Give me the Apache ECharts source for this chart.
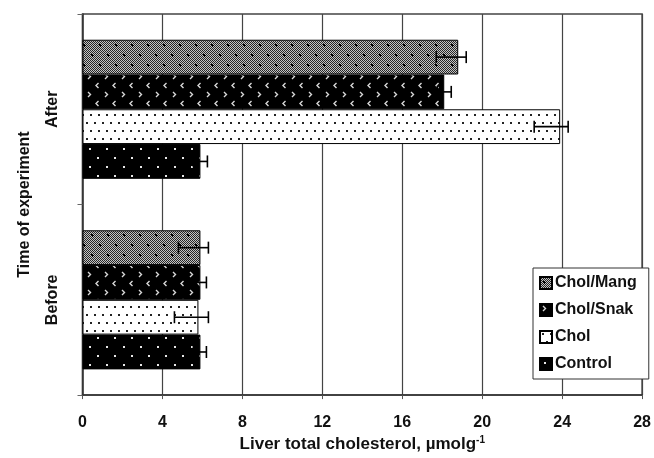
<!DOCTYPE html>
<html>
<head>
<meta charset="utf-8">
<script src="https://cdn.jsdelivr.net/npm/echarts@6/dist/echarts.min.js"></script>
<style>
  html, body { margin: 0; padding: 0; background: #fff; }
  #chart { width: 654px; height: 458px; }
</style>
</head>
<body>
<div id="chart"></div>
<script>
// ---- data ----
const categories = ['Before', 'After'];
const seriesNames = ['Control', 'Chol', 'Chol/Snak', 'Chol/Mang'];
const controlValues = [5.9, 5.9];
const cholValues = [5.8, 23.9];
const cholSnakValues = [5.9, 18.1];
const cholMangValues = [5.9, 18.8];
// error bar ends (low, high)
const controlErrLow = [5.55, 5.55];
const controlErrHigh = [6.2, 6.25];
const cholErrLow = [4.6, 22.6];
const cholErrHigh = [6.3, 24.3];
const cholSnakErrLow = [5.55, 17.75];
const cholSnakErrHigh = [6.2, 18.45];
const cholMangErrLow = [4.8, 17.7];
const cholMangErrHigh = [6.3, 19.2];
const xTicks = [0, 4, 8, 12, 16, 20, 24, 28];

// ---- patterns (style only) ----
function makePattern(w, h, bg, draw) {
  const c = document.createElement('canvas');
  c.width = w; c.height = h;
  const ctx = c.getContext('2d');
  ctx.fillStyle = bg; ctx.fillRect(0, 0, w, h);
  draw(ctx);
  return { image: c, repeat: 'repeat' };
}
const patMang = makePattern(16, 20, '#c4c4c4', ctx => {
  ctx.fillStyle = '#262626';
  for (let y = 0; y < 20; y++) for (let x = 0; x < 16; x++) if ((x + y) % 2 === 0) ctx.fillRect(x, y, 1, 1);
  ctx.fillStyle = '#000';
  [[4, 5], [12, 15]].forEach(([x, y]) => { ctx.fillRect(x - 1, y, 3, 1); ctx.fillRect(x, y - 1, 1, 3); ctx.fillRect(x - 1, y - 1, 2, 2); });
});
const patSnak = makePattern(17, 18, '#000', ctx => {
  ctx.strokeStyle = '#d8d8d8';
  ctx.lineWidth = 1.4;
  const gt = (x, y) => { ctx.beginPath(); ctx.moveTo(x, y - 2.5); ctx.lineTo(x + 2.5, y); ctx.lineTo(x, y + 2.5); ctx.stroke(); };
  const lt = (x, y) => { ctx.beginPath(); ctx.moveTo(x + 2.5, y - 2.5); ctx.lineTo(x, y); ctx.lineTo(x + 2.5, y + 2.5); ctx.stroke(); };
  gt(3, 4.5); lt(11, 13.5);
});
const patChol = makePattern(16, 16, '#fff', ctx => {
  ctx.fillStyle = '#222';
  [[2, 2], [10, 2], [6, 10], [14, 10]].forEach(([x, y]) => ctx.fillRect(x, y, 2, 2));
});
const patControl = makePattern(17, 18, '#000', ctx => {
  ctx.fillStyle = '#e8e8e8';
  [[4, 4], [12, 13]].forEach(([x, y]) => ctx.fillRect(x, y, 2, 2));
});

const barValues = [controlValues, cholValues, cholSnakValues, cholMangValues];
const errLows = [controlErrLow, cholErrLow, cholSnakErrLow, cholMangErrLow];
const errHighs = [controlErrHigh, cholErrHigh, cholSnakErrHigh, cholMangErrHigh];
const patterns = [patControl, patChol, patSnak, patMang];
const GAP = 0.27;

const errData = [];
for (let s = 0; s < seriesNames.length; s++) {
  for (let c = 0; c < categories.length; c++) {
    errData.push([errLows[s][c], errHighs[s][c], c, s]);
  }
}

const FONT = '"Liberation Sans", Arial, sans-serif';

// ECharts places the first bar series at the top of each category band
const drawOrder = [3, 2, 1, 0];
const barSeries = drawOrder.map(i => ({
  name: seriesNames[i],
  type: 'bar',
  data: barValues[i],
  barGap: '0%',
  barCategoryGap: (GAP * 100) + '%',
  itemStyle: { color: patterns[i], borderColor: '#000', borderWidth: 1 },
  z: 2
}));

const errSeries = {
  type: 'custom',
  data: errData,
  encode: { x: [0, 1], y: 2 },
  z: 5,
  silent: true,
  renderItem: function (params, api) {
    const cat = api.value(2);
    const s = api.value(3);
    const band = api.size([0, 1])[1];
    const total = band * (1 - GAP);
    const barW = total / 4;
    const yc = api.coord([0, cat])[1];
    const y = yc + total / 2 - (s + 0.5) * barW;
    const x1 = api.coord([api.value(0), cat])[0];
    const x2 = api.coord([api.value(1), cat])[0];
    const cap = 6;
    const st = { stroke: '#000', lineWidth: 1.6 };
    return {
      type: 'group',
      children: [
        { type: 'line', shape: { x1: x1, y1: y, x2: x2, y2: y }, style: st },
        { type: 'line', shape: { x1: x1, y1: y - cap, x2: x1, y2: y + cap }, style: st },
        { type: 'line', shape: { x1: x2, y1: y - cap, x2: x2, y2: y + cap }, style: st }
      ]
    };
  }
};

const chart = echarts.init(document.getElementById('chart'), null, { renderer: 'canvas' });
chart.setOption({
  animation: false,
  backgroundColor: '#fff',
  textStyle: { fontFamily: FONT },
  grid: { left: 82.5, right: 11.5, top: 14, bottom: 61, show: true, borderColor: '#444', borderWidth: 1.5, backgroundColor: 'transparent' },
  xAxis: {
    type: 'value', min: 0, max: 28, interval: 4,
    axisLine: { show: true, lineStyle: { color: '#333', width: 1.5 } },
    axisTick: { show: true, length: 4, lineStyle: { color: '#555' } },
    splitLine: { show: true, lineStyle: { color: '#444', width: 1.2 } },
    axisLabel: { color: '#111', fontSize: 16, fontWeight: 'bold', fontFamily: FONT, margin: 19,
      formatter: v => (xTicks.indexOf(v) >= 0 ? String(v) : '') },
    name: 'Liver total cholesterol, µmolg{sup|-1}',
    nameLocation: 'middle', nameGap: 36,
    nameTextStyle: { color: '#111', fontSize: 17, fontWeight: 'bold', fontFamily: FONT,
      rich: { sup: { fontSize: 10, fontWeight: 'bold', fontFamily: FONT, color: '#111', padding: [0, 0, 9, 0] } } }
  },
  yAxis: {
    type: 'category', data: categories,
    axisLine: { show: true, lineStyle: { color: '#333', width: 1.5 } },
    axisTick: { show: true, length: 5, lineStyle: { color: '#666' } },
    splitLine: { show: false },
    axisLabel: { color: '#111', fontSize: 16, fontWeight: 'bold', fontFamily: FONT, rotate: 90, margin: 22 },
    name: 'Time of experiment', nameLocation: 'middle', nameGap: 50,
    nameTextStyle: { color: '#111', fontSize: 16, fontWeight: 'bold', fontFamily: FONT }
  },
  legend: {
    orient: 'vertical', left: 533, top: 268,
    data: ['Chol/Mang', 'Chol/Snak', 'Chol', 'Control'],
    itemWidth: 12, itemHeight: 12, itemGap: 11,
    padding: [7, 12, 7, 6],
    backgroundColor: '#fff', borderColor: '#333', borderWidth: 1,
    icon: 'rect',
    textStyle: { color: '#111', fontSize: 16, fontWeight: 'bold', fontFamily: FONT, padding: [0, 0, 0, -2] }
  },
  series: barSeries.concat([errSeries])
});
</script>
</body>
</html>
